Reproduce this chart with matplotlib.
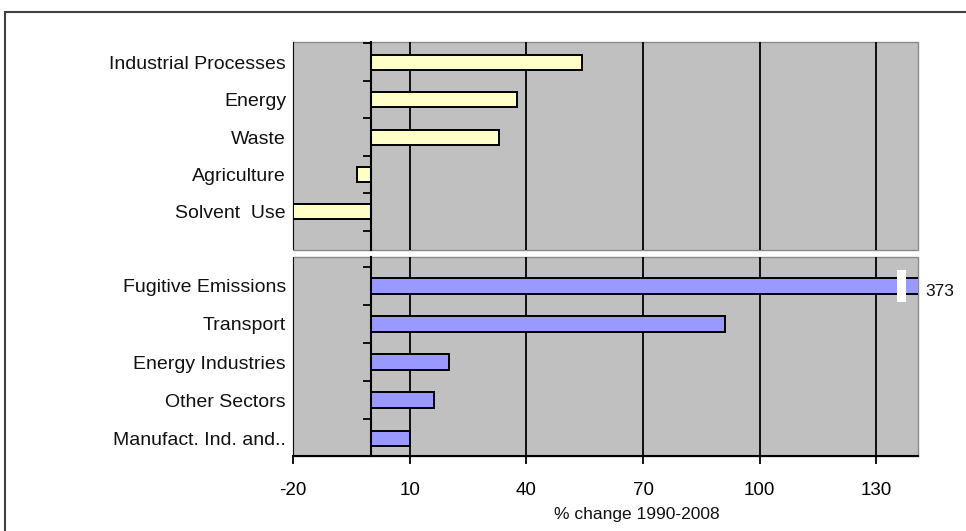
import matplotlib
matplotlib.use("Agg")
import matplotlib.pyplot as plt
import matplotlib.transforms as mtransforms
from matplotlib.patches import Rectangle
from matplotlib.ticker import FixedLocator

plt.rcParams['font.family'] = ['Liberation Sans', 'DejaVu Sans']
plt.rcParams['axes.unicode_minus'] = False

# ---- data ----
top_categories = ["Industrial Processes", "Energy", "Waste", "Agriculture", "Solvent  Use"]
top_values = [54.2, 37.5, 33.0, -3.6, -20.0]
bottom_categories = ["Fugitive Emissions", "Transport", "Energy Industries", "Other Sectors", "Manufact. Ind. and.."]
bottom_values = [373, 91.2, 20.2, 16.3, 10.2]
x_ticks = [-20, 10, 40, 70, 100, 130]
x_label = "% change 1990-2008"

W, H = 966, 531
fig = plt.figure(figsize=(W / 100, H / 100), dpi=100)

def fr(x0, y0, x1, y1):
    return [x0 / W, 1 - y1 / H, (x1 - x0) / W, (y1 - y0) / H]

ax_top = fig.add_axes(fr(293, 42, 918, 250))
ax_bot = fig.add_axes(fr(293, 257, 918, 456))

XMIN, XMAX = -20, 140.7
BG = '#C0C0C0'

def style(ax, cats, vals, color, ylim, show_x):
    n = len(cats)
    ax.set_facecolor(BG)
    ax.patch.set_edgecolor('#8a8a8a')
    ax.patch.set_linewidth(1.0)
    ax.barh(range(n), vals, height=0.4, color=color, edgecolor='black',
            linewidth=1.4, zorder=3)
    ax.set_xlim(XMIN, XMAX)
    ax.set_ylim(*ylim)
    ax.set_xticks(x_ticks)
    ax.grid(axis='x', color='black', linewidth=1.3, zorder=1)
    ax.set_axisbelow(True)
    for s in ['top', 'right']:
        ax.spines[s].set_visible(False)
    ax.spines['left'].set_position(('data', 0))
    ax.spines['left'].set_linewidth(1.5)
    ax.spines['left'].set_zorder(4)
    ax.set_yticks(range(n))
    ax.set_yticklabels(cats, fontsize=14, color='#111111')
    ax.yaxis.set_minor_locator(FixedLocator([i - 0.5 for i in range(n + 1)]))
    ax.tick_params(axis='y', which='major', length=0, pad=61)
    ax.tick_params(axis='y', which='minor', length=6, width=1.3, direction='out')
    if show_x:
        ax.spines['bottom'].set_linewidth(1.5)
        ax.spines['bottom'].set_color('black')
        ax.tick_params(axis='x', length=6, width=1.3, direction='out', pad=13,
                       labelsize=13.5, colors='black')
    else:
        ax.spines['bottom'].set_visible(False)
        ax.tick_params(axis='x', length=0, labelbottom=False)

style(ax_top, top_categories, top_values, '#FFFFC8', (5.02, -0.54), False)
style(ax_bot, bottom_categories, bottom_values, '#9999FF', (4.47, -0.76), True)

# break mark on the over-long bar + its value label
ax_bot.add_patch(Rectangle((135.3, -0.41), 2.4, 0.82, facecolor='white',
                           edgecolor='none', zorder=5, clip_on=False))
trans = mtransforms.blended_transform_factory(ax_bot.transAxes, ax_bot.transData)
ax_bot.annotate(f"{bottom_values[0]:.0f}", xy=(1, 0), xycoords=trans,
                xytext=(5, -4), textcoords='offset points', va='center', ha='left',
                fontsize=12.5, color='#111111')

fig.text(637 / W, 1 - 514 / H, x_label, ha='center', va='center', fontsize=12.5,
         color='#111111')

# outer chart frame
frame = Rectangle((5 / W, -0.2), 1.2, 1.2 - 11.5 / H, transform=fig.transFigure,
                  facecolor='none', edgecolor='#404040', linewidth=1.5, clip_on=True)
fig.patches.append(frame)

fig.savefig("out.png", dpi=100)
